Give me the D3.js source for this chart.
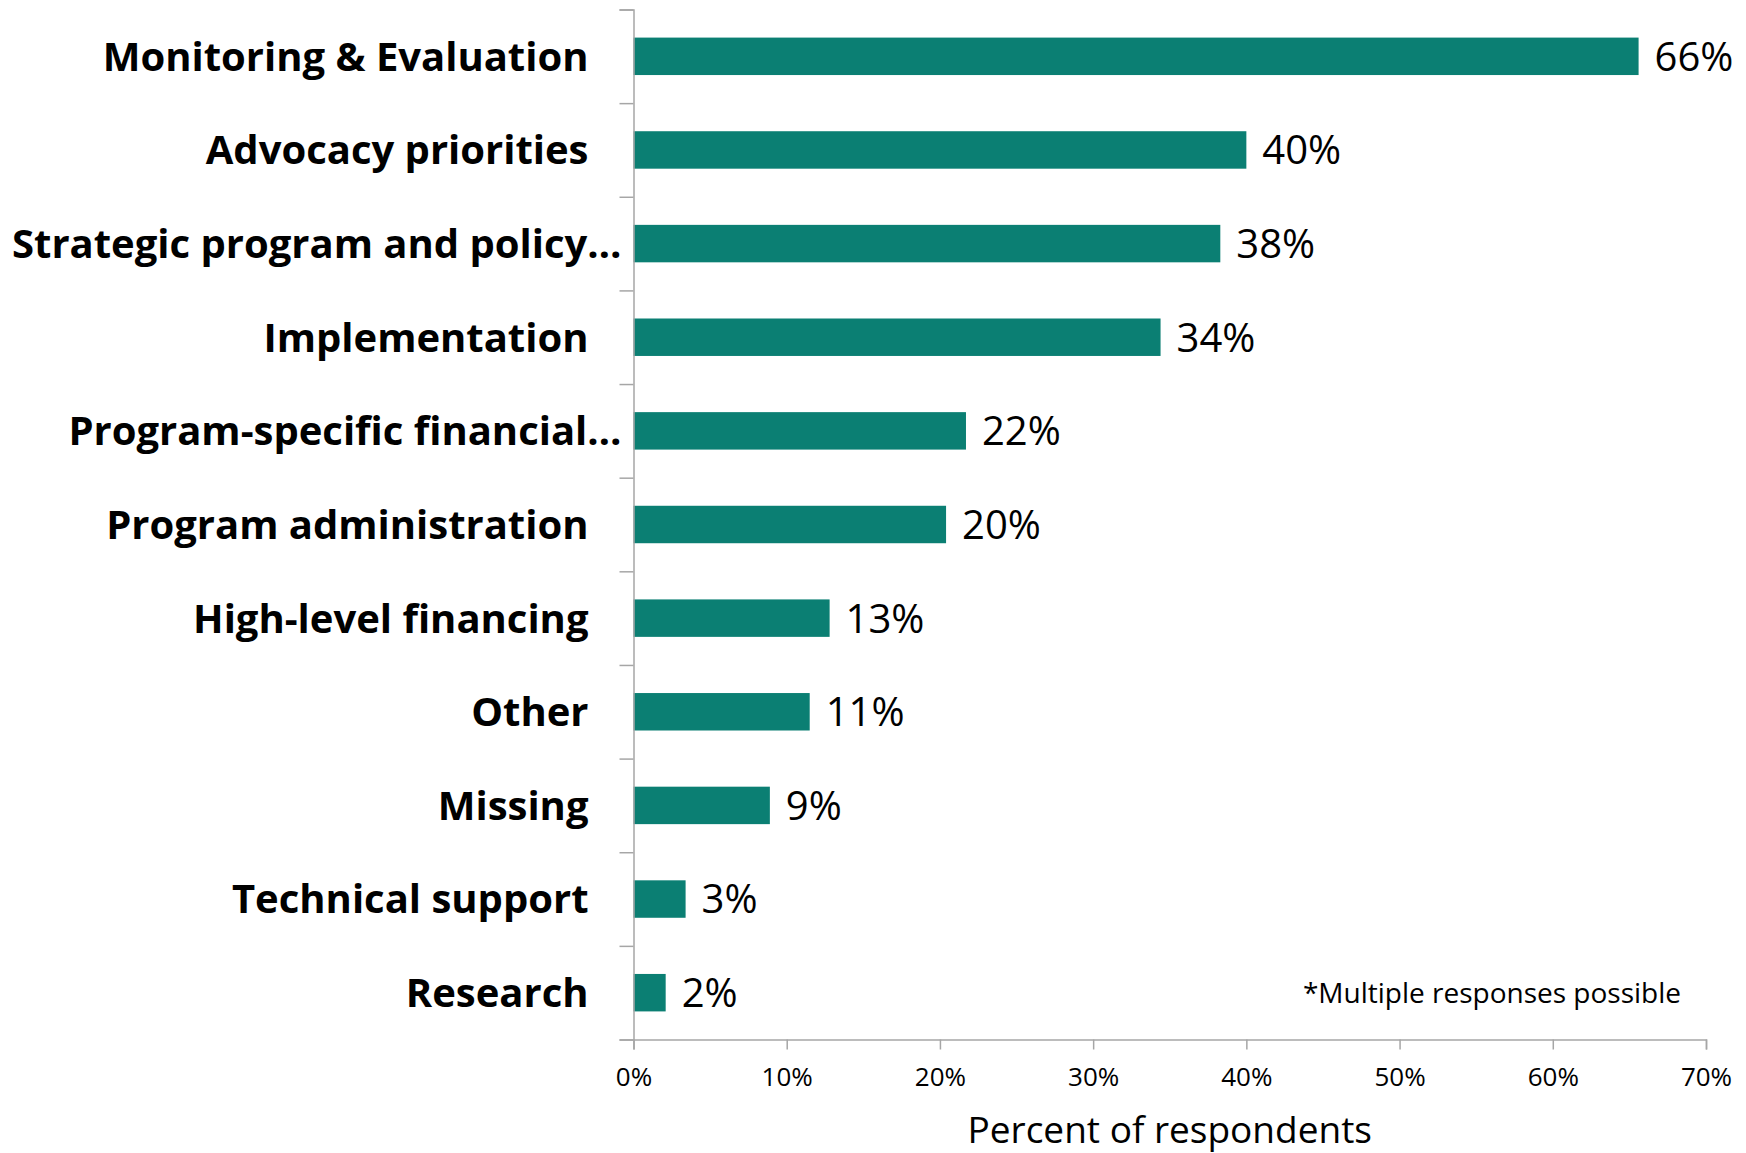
<!DOCTYPE html>
<html>
<head>
<meta charset="utf-8">
<script src="https://cdn.jsdelivr.net/npm/d3@7"></script>
<style>
  body { margin: 0; background: #fff; }
  svg { display: block; font-family: 'Open Sans', sans-serif; }
  .axis path, .axis line { stroke: #a6a6a6; stroke-width: 1.5px; }
</style>
</head>
<body>
<svg id="vis" width="1746" height="1153"></svg>
<script>
'use strict';

var categories = ['Monitoring & Evaluation', 'Advocacy priorities', 'Strategic program and policy\u2026',
    'Implementation', 'Program-specific financial\u2026', 'Program administration',
    'High-level financing', 'Other', 'Missing', 'Technical support', 'Research'];
var values = [65.6, 40.0, 38.3, 34.4, 21.7, 20.4, 12.8, 11.5, 8.9, 3.4, 2.1];
var valueLabels = ['66%', '40%', '38%', '34%', '22%', '20%', '13%', '11%', '9%', '3%', '2%'];
var xTicks = [0, 10, 20, 30, 40, 50, 60, 70];

(function () {
    var margin = {top: 9.5, left: 633.5, right: 40, bottom: 113.5};
    var height = 1153 - margin.top - margin.bottom;

    var svg = d3.select('#vis');
    var g = svg.append('g').attr('transform', 'translate(' + margin.left + ',' + margin.top + ')');

    var x = d3.scaleLinear().domain([0, 70]).range([0, 1072.5]);
    var y = d3.scaleBand().domain(categories).range([0, height]).paddingInner(0.6).paddingOuter(0.3);

    // bars
    g.selectAll('.bar')
        .data(values)
        .enter().append('rect')
        .attr('class', 'bar')
        .attr('x', 0)
        .attr('y', function (d, i) { return y(categories[i]); })
        .attr('width', function (d) { return x(d); })
        .attr('height', y.bandwidth())
        .attr('fill', '#0b7f73');

    // value labels
    g.selectAll('.val')
        .data(values)
        .enter().append('text')
        .attr('class', 'val')
        .attr('x', function (d) { return x(d) + 16; })
        .attr('y', function (d, i) { return y(categories[i]) + y.bandwidth() / 2; })
        .attr('dy', '0.36em')
        .style('font-size', '40px')
        .style('fill', '#000')
        .text(function (d, i) { return valueLabels[i]; });

    // x axis
    g.append('g')
        .attr('class', 'axis axis--x')
        .attr('transform', 'translate(0,' + height + ')')
        .call(d3.axisBottom(x).tickValues(xTicks).tickSize(10).tickPadding(18)
            .tickFormat(function (d) { return d + '%'; }))
        .call(function (a) {
            a.selectAll('text').style('font-family', "'Open Sans', sans-serif").style('font-size', '26px').style('fill', '#000');
        });

    // y axis, ticks fall between the categories
    var yTick = d3.scaleLinear().domain([0, categories.length]).range([0, height]);
    g.append('g')
        .attr('class', 'axis axis--y')
        .call(d3.axisLeft(yTick).ticks(categories.length).tickSize(14).tickFormat(''));

    // category labels
    g.selectAll('.cat')
        .data(categories)
        .enter().append('text')
        .attr('class', 'cat')
        .attr('x', function (d) { return d.indexOf('\u2026') >= 0 ? -12 : -45; })
        .attr('y', function (d) { return y(d) + y.bandwidth() / 2; })
        .attr('dy', '0.36em')
        .style('text-anchor', 'end')
        .style('font-weight', 'bold')
        .style('font-size', '40px')
        .style('fill', '#000')
        .text(function (d) { return d; });

    // footnote
    svg.append('text')
        .attr('x', 1681)
        .attr('y', 1003)
        .style('text-anchor', 'end')
        .style('font-size', '28px')
        .text('*Multiple responses possible');

    // x axis title
    svg.append('text')
        .attr('x', margin.left + x(35))
        .attr('y', 1143)
        .style('text-anchor', 'middle')
        .style('font-size', '37px')
        .text('Percent of respondents');
})();
</script>
</body>
</html>
